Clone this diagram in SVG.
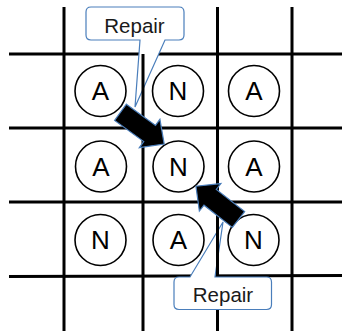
<svg xmlns="http://www.w3.org/2000/svg" width="342" height="331" viewBox="0 0 342 331">
  <style>
    .line { stroke: #000; stroke-width: 3; fill: none; }
    .cell circle { fill: #fff; stroke: #000; stroke-width: 1.6; }
    .cell text { font-family: "Liberation Sans", Arial, sans-serif; font-size: 26px; fill: #000; text-anchor: middle; }
    .callout path { fill: #fff; stroke: #4a7ebb; stroke-width: 1.2; stroke-linejoin: miter; }
    .callout text { font-family: "Liberation Sans", Arial, sans-serif; font-size: 20.5px; fill: #1a1a1a; text-anchor: middle; }
    .arrow { fill: #000; stroke: #4a7ebb; stroke-width: 1.2; stroke-linejoin: miter; }
  </style>
  <defs>
    <!-- block arrow, tail centred on the origin, pointing along +x -->
    <path id="block-arrow" d="M0,-10 H36 V-17.5 L54,0 L36,17.5 V10 H0 Z"/>
  </defs>

  <rect width="342" height="331" fill="#fff"/>

  <!-- grid rows -->
  <g id="grid-rows">
    <line class="line" x1="9" y1="54" x2="342" y2="54"/>
    <line class="line" x1="9" y1="128" x2="342" y2="128"/>
    <line class="line" x1="9" y1="202" x2="342" y2="202"/>
    <line class="line" x1="9" y1="276.5" x2="342" y2="275.5"/>
  </g>

  <!-- callouts -->
  <g id="callout-top" class="callout">
    <path d="M91,7 H179 Q184,7 184,12 V35 Q184,40 179,40 H165 L135,107 L140,40 H91 Q86,40 86,35 V12 Q86,7 91,7 Z"/>
    <text x="134.5" y="33">Repair</text>
  </g>
  <g id="callout-bottom" class="callout">
    <path d="M179,277 H190 L223,222 L215,277 H266.5 Q271.5,277 271.5,282 V304.5 Q271.5,309.5 266.5,309.5 H179 Q174,309.5 174,304.5 V282 Q174,277 179,277 Z"/>
    <text x="223" y="302">Repair</text>
  </g>

  <!-- grid columns -->
  <g id="grid-cols">
    <line class="line" x1="64" y1="7" x2="64" y2="331"/>
    <line class="line" x1="143" y1="54" x2="143" y2="331"/>
    <line class="line" x1="217.5" y1="7" x2="217.5" y2="276"/>
    <line class="line" x1="217.5" y1="310" x2="217.5" y2="331"/>
    <line class="line" x1="292" y1="7" x2="292" y2="331"/>
  </g>

  <!-- cells -->
  <g id="cell-1-1" class="cell"><circle cx="100.5" cy="91" r="25.5"/><text x="100.5" y="100.3">A</text></g>
  <g id="cell-1-2" class="cell"><circle cx="178" cy="91" r="25.5"/><text x="178" y="100.3">N</text></g>
  <g id="cell-1-3" class="cell"><circle cx="254" cy="91" r="25.5"/><text x="254" y="100.3">A</text></g>
  <g id="cell-2-1" class="cell"><circle cx="101" cy="166.5" r="25.5"/><text x="101" y="175.8">A</text></g>
  <g id="cell-2-2" class="cell"><circle cx="178.5" cy="166.5" r="25.5"/><text x="178.5" y="175.8">N</text></g>
  <g id="cell-2-3" class="cell"><circle cx="254" cy="166.5" r="25.5"/><text x="254" y="175.8">A</text></g>
  <g id="cell-3-1" class="cell"><circle cx="100.5" cy="240" r="25.5"/><text x="100.5" y="249.3">N</text></g>
  <g id="cell-3-2" class="cell"><circle cx="178.5" cy="240" r="25.5"/><text x="178.5" y="249.3">A</text></g>
  <g id="cell-3-3" class="cell"><circle cx="253.5" cy="240" r="25.5"/><text x="253.5" y="249.3">N</text></g>

  <!-- repair arrows -->
  <g id="connectors">
    <use href="#block-arrow" class="arrow" transform="translate(120.5,112.3) rotate(36)"/>
    <use href="#block-arrow" class="arrow" transform="translate(238.5,219.5) rotate(218)"/>
  </g>
</svg>
